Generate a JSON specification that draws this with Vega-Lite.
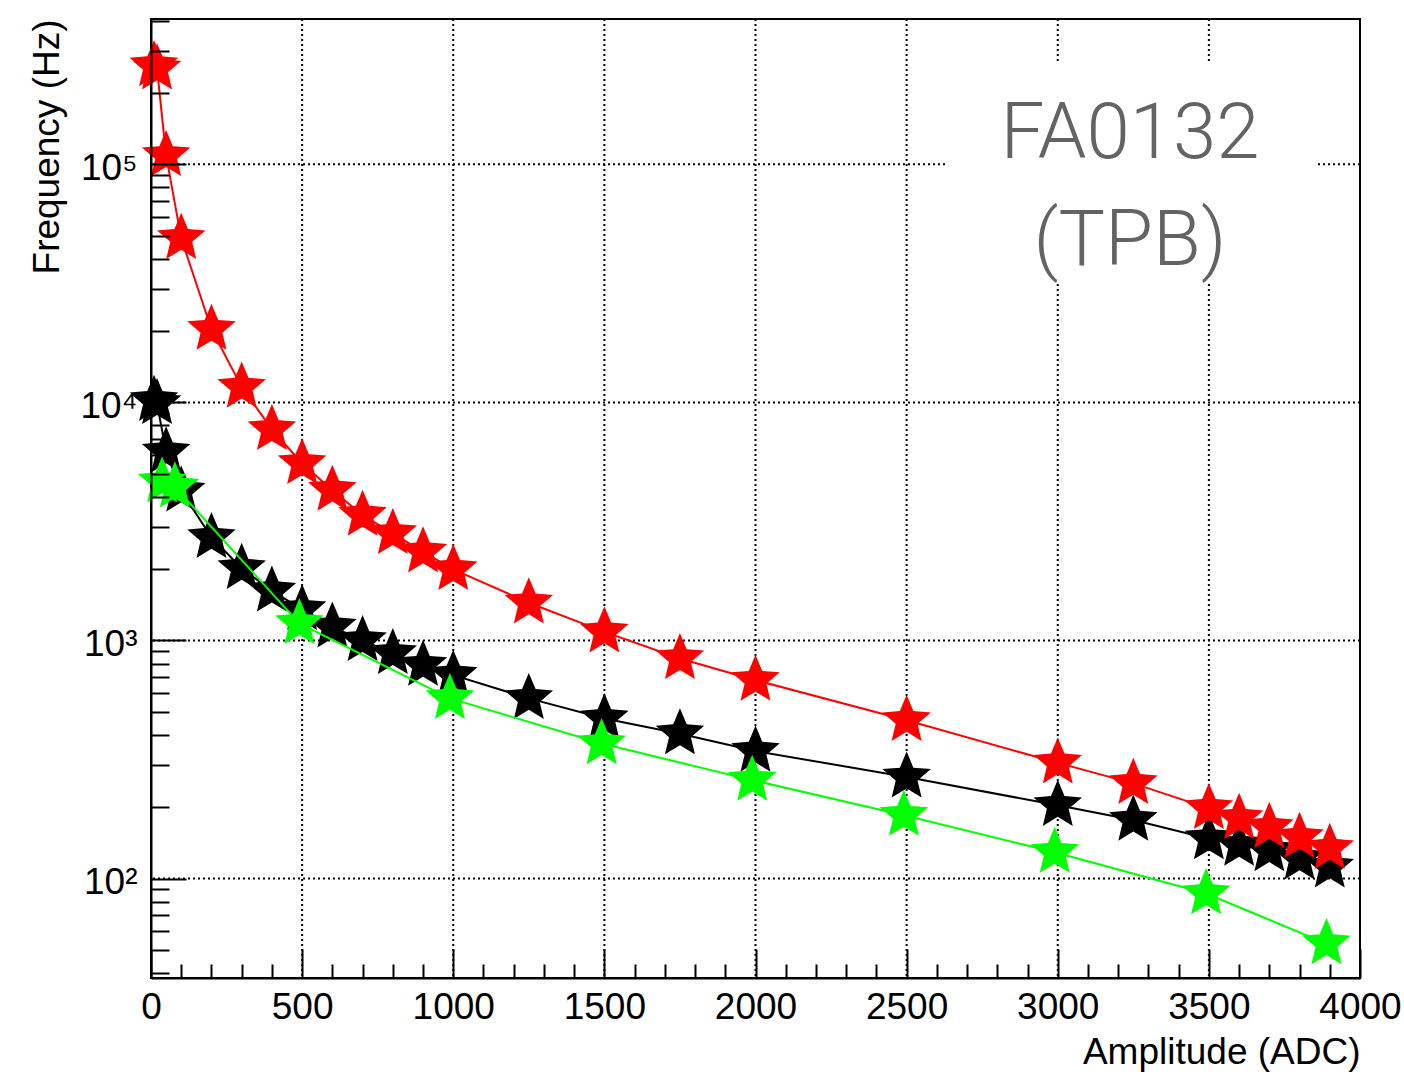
{
  "$schema": "https://vega.github.io/schema/vega-lite/v6.json",
  "width": 1209,
  "height": 959,
  "autosize": {"type": "none"},
  "padding": {"left": 151, "top": 19, "right": 44, "bottom": 96},
  "background": "white",
  "config": {
    "view": {"stroke": "black", "strokeWidth": 2},
    "font": "Liberation Sans",
    "axis": {"labelOverlap": false, "labelFlush": false, "labelBound": false}
  },
  "datasets": {
    "black": [
      {"x": 10, "y": 10200}, {"x": 20, "y": 9900}, {"x": 50, "y": 6200}, {"x": 100, "y": 4250},
      {"x": 200, "y": 2710}, {"x": 300, "y": 2010}, {"x": 400, "y": 1615}, {"x": 500, "y": 1350},
      {"x": 600, "y": 1140}, {"x": 700, "y": 1000}, {"x": 800, "y": 882}, {"x": 900, "y": 787},
      {"x": 1000, "y": 715}, {"x": 1250, "y": 571}, {"x": 1500, "y": 470}, {"x": 1750, "y": 406},
      {"x": 2000, "y": 343}, {"x": 2500, "y": 267}, {"x": 3000, "y": 203}, {"x": 3250, "y": 176},
      {"x": 3500, "y": 147}, {"x": 3600, "y": 138}, {"x": 3700, "y": 131}, {"x": 3800, "y": 121},
      {"x": 3900, "y": 112}
    ],
    "red": [
      {"x": 10, "y": 260000}, {"x": 20, "y": 252000}, {"x": 50, "y": 109000}, {"x": 100, "y": 48900},
      {"x": 200, "y": 20300}, {"x": 300, "y": 11600}, {"x": 400, "y": 7700}, {"x": 500, "y": 5540},
      {"x": 600, "y": 4280}, {"x": 700, "y": 3360}, {"x": 800, "y": 2815}, {"x": 900, "y": 2357},
      {"x": 1000, "y": 1988}, {"x": 1250, "y": 1440}, {"x": 1500, "y": 1087}, {"x": 1750, "y": 840},
      {"x": 2000, "y": 681}, {"x": 2500, "y": 462}, {"x": 3000, "y": 306}, {"x": 3250, "y": 251},
      {"x": 3500, "y": 197}, {"x": 3600, "y": 179}, {"x": 3700, "y": 164}, {"x": 3800, "y": 149},
      {"x": 3900, "y": 134}
    ],
    "green": [
      {"x": 37, "y": 4640}, {"x": 79, "y": 4420}, {"x": 491, "y": 1179}, {"x": 989, "y": 571},
      {"x": 1491, "y": 369}, {"x": 1989, "y": 259}, {"x": 2491, "y": 184.5}, {"x": 2990, "y": 129},
      {"x": 3491, "y": 86.5}, {"x": 3889, "y": 53.3}
    ],
    "gridx": [{"x": 500}, {"x": 1000}, {"x": 1500}, {"x": 2000}, {"x": 2500}, {"x": 3000}, {"x": 3500}],
    "gridy": [{"y": 100}, {"y": 1000}, {"y": 10000}, {"y": 100000}],
    "label": [{"line1": "FA0132", "line2": "(TPB)"}]
  },
  "layer": [
    {
      "data": {"name": "black"},
      "mark": {"type": "line", "color": "#000000", "strokeWidth": 2},
      "encoding": {
        "x": {
          "field": "x", "type": "quantitative",
          "scale": {"domain": [0, 4000], "nice": false, "zero": false},
          "axis": {
            "title": "Amplitude (ADC)",
            "values": [0,100,200,300,400,500,600,700,800,900,1000,1100,1200,1300,1400,1500,1600,1700,1800,1900,2000,2100,2200,2300,2400,2500,2600,2700,2800,2900,3000,3100,3200,3300,3400,3500,3600,3700,3800,3900,4000],
            "tickCount": 500,
            "labelExpr": "datum.value % 500 == 0 ? format(datum.value, 'd') : ''",
            "tickSize": {"condition": {"test": "datum.value % 500 == 0", "value": -29}, "value": -14},
            "tickColor": "black", "tickWidth": 2,
            "domain": true, "domainColor": "black", "domainWidth": 2,
            "grid": false,
            "labelFont": "Liberation Sans", "labelFontSize": 37, "labelColor": "black",
            "labelPadding": 40, "labelFlush": false, "labelOverlap": false,
            "titleFont": "Liberation Sans", "titleFontSize": 37, "titleFontWeight": "normal", "titleColor": "black",
            "titleAnchor": "end", "titlePadding": -6,
            "zindex": 1
          }
        },
        "y": {
          "field": "y", "type": "quantitative",
          "scale": {"type": "log", "domain": [38.2, 408000], "nice": false},
          "axis": {
            "title": "Frequency (Hz)",
            "values": [40,50,60,70,80,90,100,200,300,400,500,600,700,800,900,1000,2000,3000,4000,5000,6000,7000,8000,9000,10000,20000,30000,40000,50000,60000,70000,80000,90000,100000,200000,300000,400000],
            "tickCount": 500,
            "labelExpr": "datum.value == 100 ? '10²' : datum.value == 1000 ? '10³' : datum.value == 10000 ? '10⁴' : datum.value == 100000 ? '10⁵' : ''",
            "tickSize": {"condition": {"test": "datum.value == 100 || datum.value == 1000 || datum.value == 10000 || datum.value == 100000", "value": -35}, "value": -18},
            "tickColor": "black", "tickWidth": 2,
            "domain": true, "domainColor": "black", "domainWidth": 2,
            "grid": false,
            "labelFont": "Liberation Sans", "labelFontSize": 37, "labelColor": "black",
            "labelPadding": 49, "labelOffset": 4, "labelFlush": false, "labelOverlap": false,
            "titleFont": "Liberation Sans", "titleFontSize": 37, "titleFontWeight": "normal", "titleColor": "black",
            "titleAnchor": "end", "titlePadding": 13,
            "zindex": 1
          }
        }
      }
    },
    {
      "data": {"name": "gridx"},
      "mark": {"type": "rule", "color": "black", "strokeWidth": 2, "strokeDash": [2, 3]},
      "encoding": {
        "x": {"field": "x", "type": "quantitative"}
      }
    },
    {
      "data": {"name": "gridy"},
      "mark": {"type": "rule", "color": "black", "strokeWidth": 2, "strokeDash": [2, 3]},
      "encoding": {
        "y": {"field": "y", "type": "quantitative"}
      }
    },
    {
      "data": {"name": "label"},
      "mark": {"type": "rect", "fill": "white", "strokeWidth": 0},
      "encoding": {
        "x": {"datum": 2627, "type": "quantitative"},
        "x2": {"datum": 3858},
        "y": {"datum": 266500, "type": "quantitative"},
        "y2": {"datum": 32330}
      }
    },
    {
      "data": {"name": "label"},
      "mark": {"type": "text", "font": "Roboto", "fontWeight": 300, "fontSize": 78, "color": "#636363", "align": "center", "baseline": "alphabetic", "lineHeight": 107},
      "encoding": {
        "text": {"value": ["FA0132", "(TPB)"]},
        "x": {"datum": 3239, "type": "quantitative"},
        "y": {"datum": 106300, "type": "quantitative"}
      }
    },
    {
      "data": {"name": "black"},
      "mark": {"type": "point", "shape": "M0,-1L0.265,-0.365L0.951,-0.309L0.428,0.139L0.588,0.809L0,0.45L-0.588,0.809L-0.428,0.139L-0.951,-0.309L-0.265,-0.365Z", "filled": true, "opacity": 1, "size": 2600, "color": "#000000", "strokeWidth": 0},
      "encoding": {
        "x": {"field": "x", "type": "quantitative"},
        "y": {"field": "y", "type": "quantitative"}
      }
    },
    {
      "data": {"name": "red"},
      "mark": {"type": "line", "color": "#ff0000", "strokeWidth": 2},
      "encoding": {
        "x": {"field": "x", "type": "quantitative"},
        "y": {"field": "y", "type": "quantitative"}
      }
    },
    {
      "data": {"name": "red"},
      "mark": {"type": "point", "shape": "M0,-1L0.265,-0.365L0.951,-0.309L0.428,0.139L0.588,0.809L0,0.45L-0.588,0.809L-0.428,0.139L-0.951,-0.309L-0.265,-0.365Z", "filled": true, "opacity": 1, "size": 2600, "color": "#ff0000", "strokeWidth": 0},
      "encoding": {
        "x": {"field": "x", "type": "quantitative"},
        "y": {"field": "y", "type": "quantitative"}
      }
    },
    {
      "data": {"name": "green"},
      "mark": {"type": "line", "color": "#00ff00", "strokeWidth": 2},
      "encoding": {
        "x": {"field": "x", "type": "quantitative"},
        "y": {"field": "y", "type": "quantitative"}
      }
    },
    {
      "data": {"name": "green"},
      "mark": {"type": "point", "shape": "M0,-1L0.265,-0.365L0.951,-0.309L0.428,0.139L0.588,0.809L0,0.45L-0.588,0.809L-0.428,0.139L-0.951,-0.309L-0.265,-0.365Z", "filled": true, "opacity": 1, "size": 2600, "color": "#00ff00", "strokeWidth": 0},
      "encoding": {
        "x": {"field": "x", "type": "quantitative"},
        "y": {"field": "y", "type": "quantitative"}
      }
    }
  ]
}
